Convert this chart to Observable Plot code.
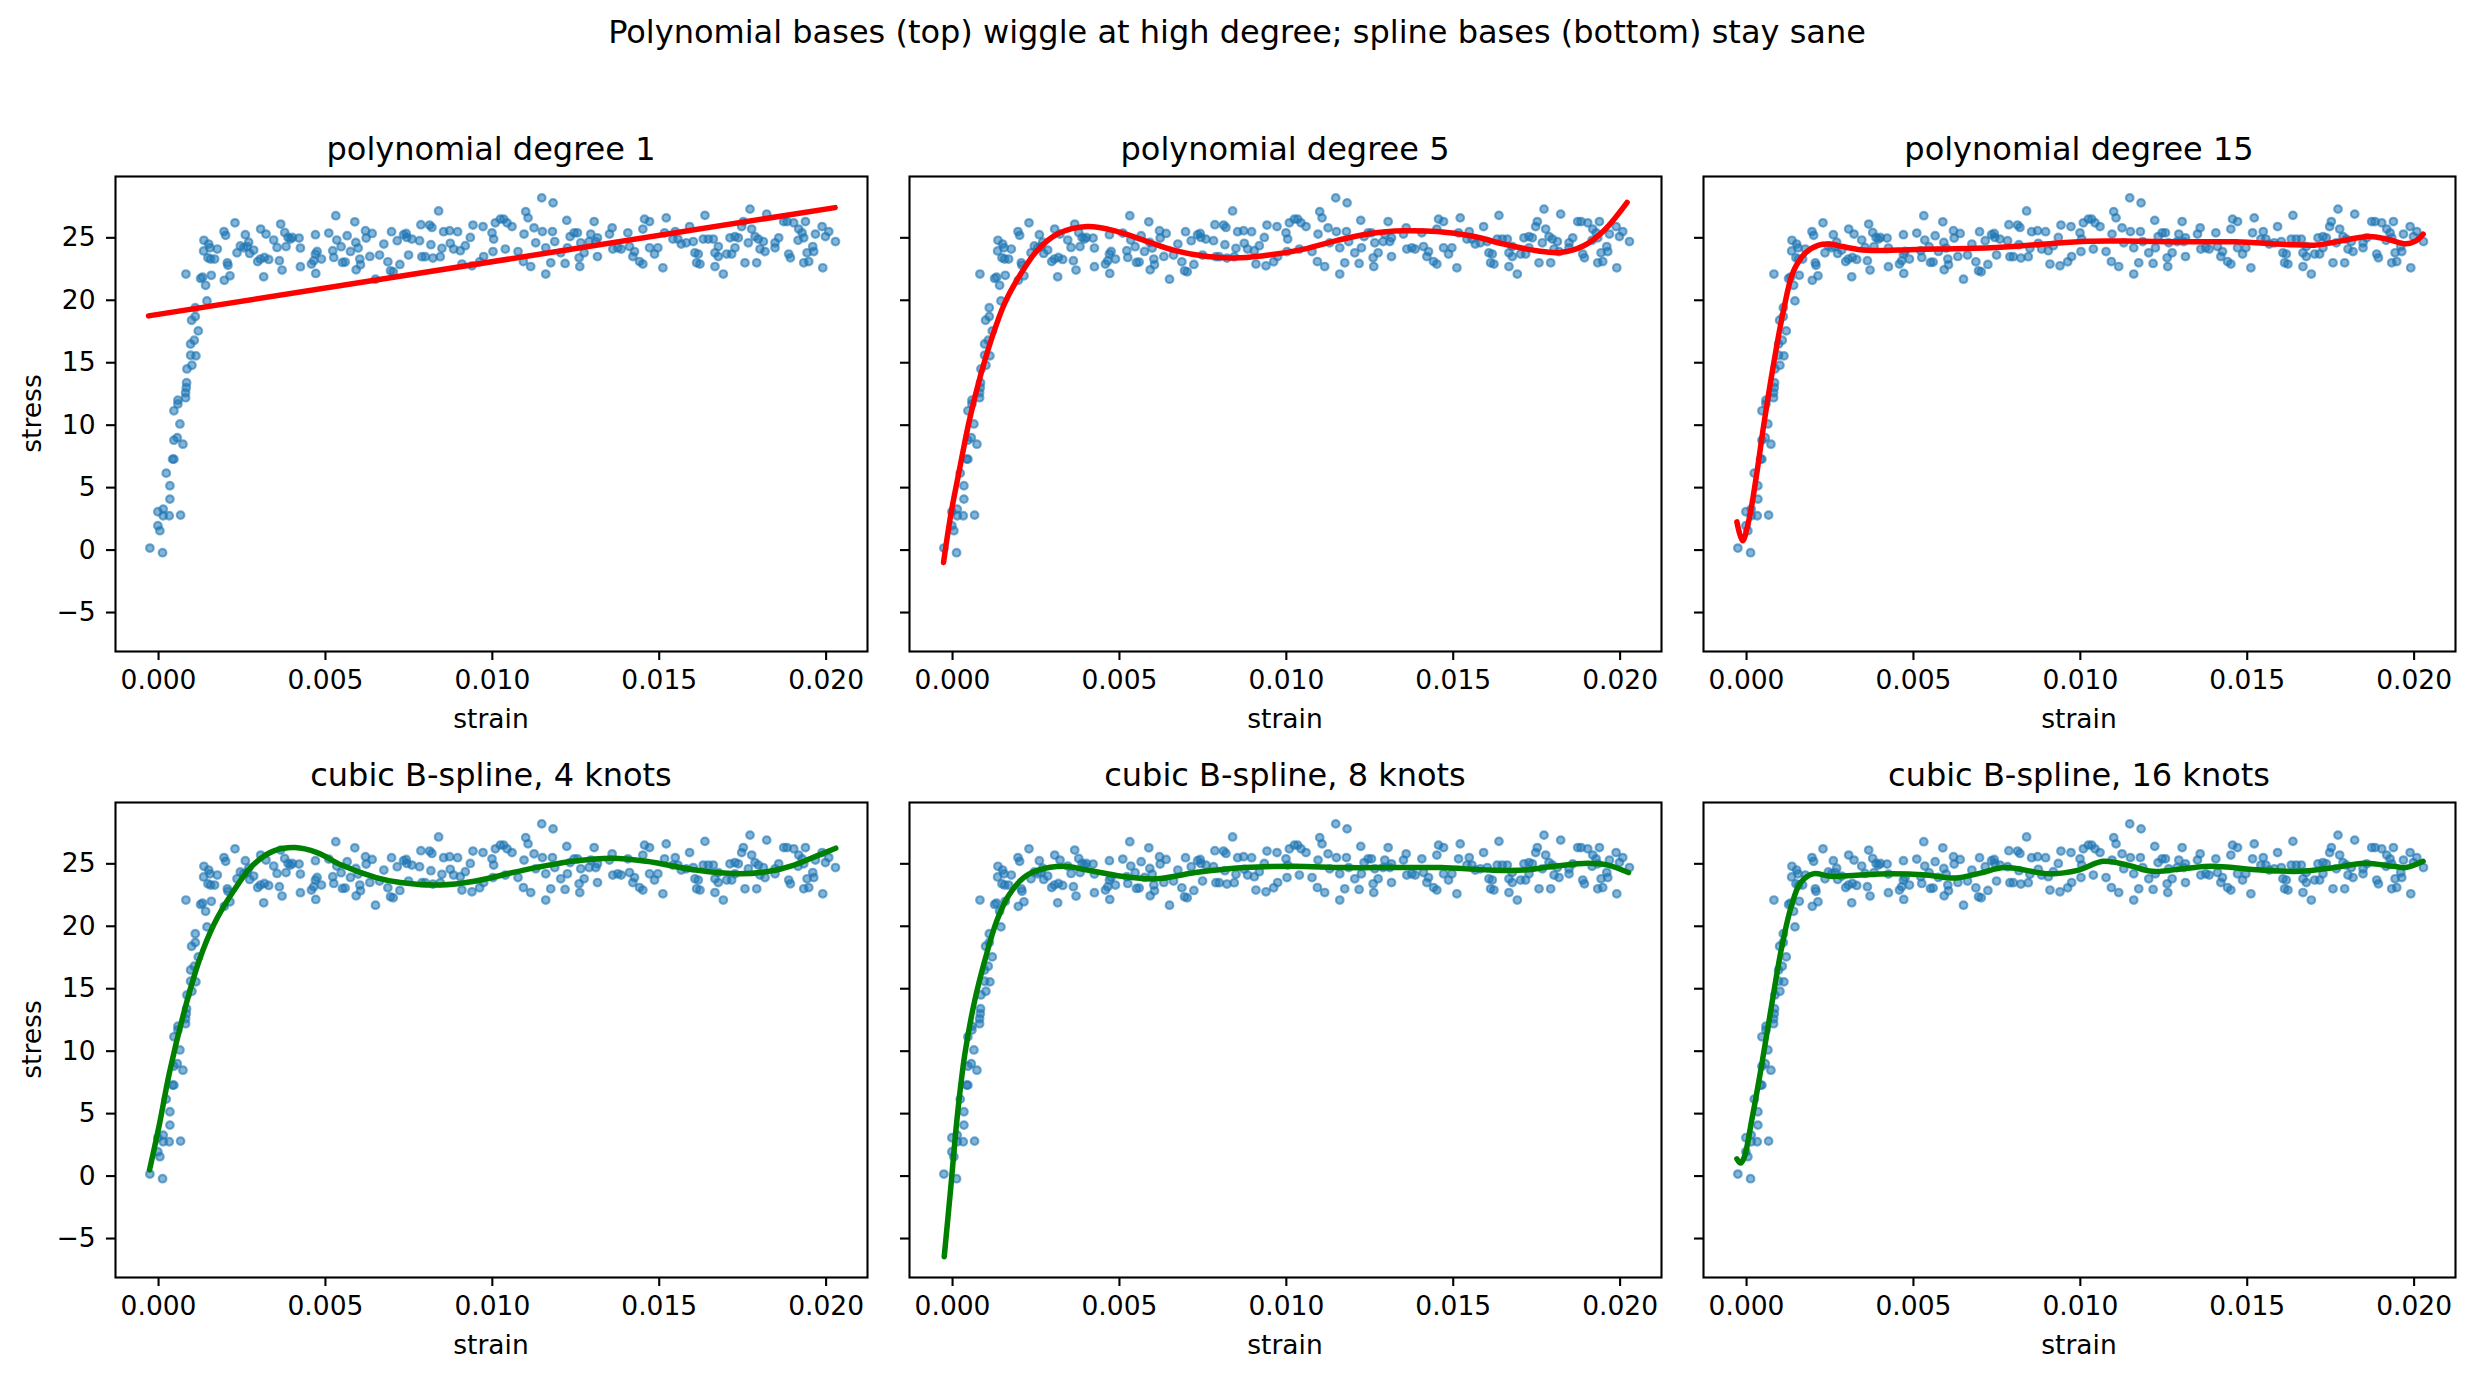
<!DOCTYPE html>
<html><head><meta charset="utf-8">
<script src="https://cdn.jsdelivr.net/npm/d3@7"></script>
<script src="https://cdn.jsdelivr.net/npm/@observablehq/plot@0.6"></script>
<style>
body{margin:0;background:#fff;}
#fig{position:relative;width:2474px;height:1381px;background:#fff;font-family:"DejaVu Sans",sans-serif;overflow:hidden;}
#fig svg{position:absolute;overflow:visible;}
</style></head><body><div id="fig"></div>
<script>
// ---- scatter data (strain in units of 1e-3) ----
const scatterStrainMilli = [
-0.26,-0.02,-0.02,0.04,0.12,0.14,0.14,0.23,0.32,0.34,0.34,0.42,0.46,0.46,0.46,0.56,0.58,0.58,0.64,0.66,
0.73,0.81,0.81,0.82,0.83,0.84,0.85,0.96,0.96,0.99,1.0,1.07,1.1,1.1,1.12,1.19,1.26,1.32,1.35,1.36,
1.41,1.45,1.48,1.5,1.54,1.56,1.58,1.68,1.76,1.96,1.97,2.01,2.06,
2.08,2.14,2.29,2.35,2.45,2.55,2.65,2.7,2.6,2.73,2.85,2.97,3.06,3.15,3.05,3.17,3.22,3.3,3.45,3.55,
3.62,3.7,3.66,3.78,3.82,3.88,3.95,4.01,4.21,4.25,4.25,4.58,4.65,4.7,4.75,4.7,4.71,4.88,5.1,5.22,
5.25,5.31,5.34,5.47,5.51,5.59,5.65,5.75,5.88,5.91,5.98,6.03,6.05,5.92,6.2,6.22,6.33,6.4,6.5,6.62,
6.75,6.87,6.95,7.03,6.98,7.15,7.23,7.34,7.42,7.44,7.49,7.59,7.82,7.86,7.89,7.99,8.12,8.19,8.16,8.22,
8.39,8.44,8.49,8.54,8.72,8.96,8.74,8.84,9.04,9.19,9.34,9.09,9.39,9.62,9.42,
9.72,9.74,9.99,10.04,10.02,10.09,10.24,10.34,10.44,10.59,10.39,10.77,10.93,11.15,11.0,11.07,10.95,11.25,11.5,11.48,
11.82,11.6,11.3,11.6,11.87,12.05,11.75,12.18,12.23,11.8,12.33,12.45,12.55,12.25,12.65,12.6,12.75,12.62,12.9,12.95,
13.1,13.05,13.15,13.15,13.51,13.59,13.61,13.76,13.86,14.06,14.11,14.26,14.21,14.41,14.51,14.51,14.56,14.71,14.71,14.86,
14.96,15.11,15.21,15.16,15.41,15.48,15.56,15.66,15.81,15.91,16.02,16.07,16.17,16.12,16.22,16.32,16.37,16.47,16.62,16.67,
16.67,16.77,16.77,16.92,17.02,17.17,17.12,17.27,17.37,17.27,17.47,17.52,17.72,17.57,17.67,17.77,17.87,17.97,18.02,18.12,
18.17,17.92,18.22,18.47,18.47,18.58,18.73,18.83,19.03,19.18,19.28,19.33,19.16,19.38,18.88,18.93,19.43,19.6,19.63,19.48,
19.33,19.68,19.88,20.08,19.98,19.9,20.28
];
const scatterStress = [
0.16,1.95,3.07,1.55,-0.21,3.28,2.75,6.16,2.75,4.08,5.15,7.28,7.28,8.8,11.15,9.0,11.7,12.0,10.1,2.8,
8.48,12.2,12.6,22.1,13.0,13.4,14.5,15.6,16.5,18.4,14.8,16.8,18.7,19.4,15.55,17.55,21.75,21.85,23.95,24.8,
21.2,19.95,23.4,24.5,24.2,23.3,22.0,23.3,24.1,25.5,21.6,25.2,23.0,
22.8,21.96,26.2,23.8,24.35,24.2,24.3,24.65,25.25,23.75,24.02,23.1,25.7,21.88,23.3,23.43,25.3,23.27,24.82,24.23,
23.17,22.42,26.1,25.43,24.3,25.03,24.9,25.03,24.98,24.18,22.69,22.9,23.17,23.7,23.91,25.25,22.15,23.3,25.38,23.97,
23.43,26.77,24.82,24.29,23.03,23.06,25.17,23.91,26.28,24.63,24.18,23.3,22.84,22.44,25.57,24.98,23.51,25.35,21.69,23.62,
24.5,23.08,22.36,22.28,25.49,24.77,22.87,25.25,25.35,25.03,23.62,24.9,24.77,26.05,23.49,23.49,26.02,25.83,24.45,23.38,
27.15,23.49,24.16,25.49,25.57,25.49,24.56,24.1,23.97,24.37,25.03,22.9,22.76,23.08,26.02,
25.9,23.5,25.4,24.9,23.9,26.2,26.5,26.5,26.2,25.9,24.1,23.9,23.1,22.7,27.1,26.6,25.3,25.8,25.5,28.2,
27.8,22.1,24.6,24.2,24.7,23.8,23.0,22.95,26.4,25.5,25.1,25.4,25.4,24.2,24.6,23.4,23.8,22.7,24.7,25.3,
24.7,26.3,25.0,23.5,25.3,25.8,24.1,24.2,24.1,25.4,24.3,23.9,23.5,23.1,22.9,25.7,26.5,26.3,24.2,23.7,
24.2,22.6,26.6,25.4,24.9,25.5,24.9,24.5,24.6,25.9,24.7,23.8,23.7,23.0,22.9,24.9,26.8,24.9,24.9,23.8,
22.7,24.3,23.5,22.1,23.7,23.7,25.0,25.1,25.0,24.2,25.9,26.3,27.3,23.0,24.6,25.7,25.1,24.9,24.1,24.7,
23.9,23.0,26.9,24.2,24.6,25.0,26.3,26.3,26.2,25.7,25.4,25.0,24.8,26.3,23.7,23.4,23.8,24.3,23.9,23.1,
23.0,25.3,25.9,25.5,25.1,22.6,24.7
];

// ---- fitted curves (strain in units of 1e-3) ----
const deg1StrainMilli = [-0.3, 20.27];
const deg1Stress = [18.75, 27.42];
const deg5StrainMilli = [-0.27,-0.05,0.20,0.5,0.85,1.15,1.55,2.04,2.54,3.14,4.04,4.94,5.74,6.64,7.63,8.63,9.53,10.53,11.53,12.52,13.52,14.52,15.52,16.52,17.51,18.21,18.91,19.51,20.21];
const deg5Stress = [-0.99,2.88,6.35,10.35,14.1,16.76,19.7,22.1,24.0,25.3,25.9,25.5,24.8,24.0,23.5,23.4,23.64,24.1,24.8,25.35,25.56,25.5,25.16,24.5,23.96,23.83,24.36,25.56,27.83];
const deg15StrainMilli = [-0.29,-0.12,0.07,0.29,0.52,0.81,1.1,1.4,1.77,2.14,2.5,2.87,3.61,5.08,7.3,8.77,10.24,11.72,13.19,14.66,16.14,17.02,17.61,18.64,19.23,19.75,20.04,20.27];
const deg15Stress = [2.26,0.74,2.4,5.85,10.1,14.9,19.1,22.3,23.8,24.4,24.5,24.3,24.0,24.07,24.2,24.47,24.73,24.73,24.68,24.68,24.47,24.41,24.65,25.1,24.87,24.52,24.73,25.3];
const knots4StrainMilli = [-0.27,0.03,0.32,0.77,1.21,1.65,2.24,2.83,3.42,4.08,4.75,5.48,6.52,7.25,8.43,9.46,10.94,12.41,13.59,14.62,16.09,17.42,18.3,19.04,19.78,20.29];
const knots4Stress = [0.5,4.2,8.2,13.2,17.2,20.1,22.8,24.9,26.0,26.3,25.9,24.9,23.9,23.5,23.3,23.6,24.5,25.2,25.45,25.2,24.5,24.2,24.4,24.9,25.7,26.25];
const knots8StrainMilli = [-0.25,-0.07,0.15,0.37,0.66,0.96,1.32,1.69,2.13,2.57,3.31,4.04,5.07,6.1,7.28,8.75,10.22,11.69,13.16,14.63,16.1,17.13,18.01,19.04,19.63,20.25];
const knots8Stress = [-6.46,-1.4,5.0,9.8,14.0,17.2,20.4,22.5,23.9,24.5,24.8,24.5,24.0,23.8,24.3,24.7,24.8,24.7,24.7,24.7,24.5,24.5,24.8,25.05,24.9,24.3];
const knots16StrainMilli = [-0.29,-0.18,-0.07,0.15,0.44,0.74,1.03,1.33,1.62,1.99,2.51,3.02,4.35,5.38,6.26,7.0,7.74,9.07,9.95,10.68,11.42,12.16,13.19,13.93,15.4,16.58,17.61,18.5,19.38,19.75,20.27];
const knots16Stress = [1.38,1.04,1.5,4.4,8.7,13.5,18.0,21.5,23.5,24.2,24.0,24.05,24.2,24.1,23.86,24.26,24.7,24.2,24.5,25.2,24.9,24.4,24.65,24.8,24.5,24.4,24.7,25.05,24.8,24.7,25.2];

// ---- text & ticks ----
const suptitle = "Polynomial bases (top) wiggle at high degree; spline bases (bottom) stay sane";
const panelTitles = ["polynomial degree 1","polynomial degree 5","polynomial degree 15","cubic B-spline, 4 knots","cubic B-spline, 8 knots","cubic B-spline, 16 knots"];
const xLabel = "strain";
const yLabel = "stress";
const xTicks = [0, 0.005, 0.010, 0.015, 0.020];
const yTicks = [-5, 0, 5, 10, 15, 20, 25];
const xDomain = [-0.00129, 0.02124];
const yDomain = [-8.12, 29.91];

// ---- build ----
const toStrain = a => a.map(v => v / 1000);
const scatter = toStrain(scatterStrainMilli).map((s, i) => ({strain: s, stress: scatterStress[i]}));
const mkFit = (xs, ys) => toStrain(xs).map((s, i) => ({strain: s, stress: ys[i]}));
const fits = [
  {data: mkFit(deg1StrainMilli, deg1Stress), color: "red"},
  {data: mkFit(deg5StrainMilli, deg5Stress), color: "red"},
  {data: mkFit(deg15StrainMilli, deg15Stress), color: "red"},
  {data: mkFit(knots4StrainMilli, knots4Stress), color: "green"},
  {data: mkFit(knots8StrainMilli, knots8Stress), color: "green"},
  {data: mkFit(knots16StrainMilli, knots16Stress), color: "green"}
];

const FW = 752, FH = 475;
const colLeft = [115, 909, 1703];
const rowTop = [176, 802];
const fig = document.getElementById("fig");
const fmtX = d3.format(".3f");
const fmtY = d => d < 0 ? "\u2212" + Math.abs(d) : String(d);

fits.forEach((f, p) => {
  const c = p % 3, r = Math.floor(p / 3);
  const mL = c === 0 ? 120 : 45, mR = 10, mT = 10, mB = 110;
  const svg = Plot.plot({
    width: mL + FW + mR, height: mT + FH + mB,
    marginLeft: mL, marginRight: mR, marginTop: mT, marginBottom: mB,
    x: {domain: xDomain},
    y: {domain: yDomain},
    style: {fontFamily: "DejaVu Sans", fontSize: "26.5px", color: "black", background: "transparent", overflow: "visible"},
    marks: [
      Plot.dot(scatter, {x: "strain", y: "stress", r: 3.8, fill: "#1f77b4", fillOpacity: 0.55, stroke: "#1f77b4", strokeOpacity: 0.6, strokeWidth: 2.2}),
      Plot.line(f.data, {x: "strain", y: "stress", stroke: f.color, strokeWidth: 5.5, curve: "catmull-rom"}),
      Plot.frame({stroke: "black", strokeWidth: 2.1}),
      Plot.axisX({ticks: xTicks, tickFormat: fmtX, tickSize: 9, tickPadding: 10, strokeWidth: 2.1, label: null}),
      Plot.axisY({ticks: yTicks, tickFormat: c === 0 ? fmtY : () => "", tickSize: 9, tickPadding: 11, strokeWidth: 2.1, label: null})
    ]
  });
  svg.style.left = (colLeft[c] - mL) + "px";
  svg.style.top = (rowTop[r] - mT) + "px";
  fig.appendChild(svg);
});

// ---- text overlay ----
const ov = d3.select(fig).append("svg")
  .attr("width", 2474).attr("height", 1381)
  .style("left", "0px").style("top", "0px")
  .attr("font-family", "DejaVu Sans").attr("fill", "black");
ov.append("text").attr("x", 1237).attr("y", 43).attr("text-anchor", "middle").attr("font-size", 32).text(suptitle);
panelTitles.forEach((t, p) => {
  const c = p % 3, r = Math.floor(p / 3);
  const cx = colLeft[c] + FW / 2;
  ov.append("text").attr("x", cx).attr("y", rowTop[r] - 16.5).attr("text-anchor", "middle").attr("font-size", 32).text(t);
  ov.append("text").attr("x", cx).attr("y", rowTop[r] + FH + 77).attr("text-anchor", "middle").attr("font-size", 26.5).text(xLabel);
  if (c === 0) {
    const cy = rowTop[r] + FH / 2;
    ov.append("text").attr("transform", `translate(40.5,${cy}) rotate(-90)`).attr("text-anchor", "middle").attr("font-size", 26.5).text(yLabel);
  }
});
</script>
</body></html>
